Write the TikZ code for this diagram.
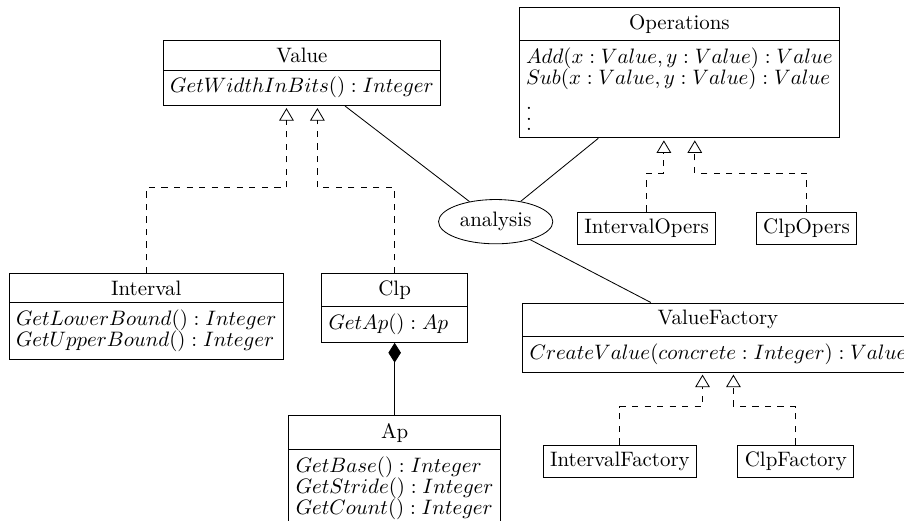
\documentclass[tikz,border=0pt]{standalone}
\usetikzlibrary{shapes.multipart,shapes.geometric,arrows.meta}

\newcommand{\moredots}{\vbox{\baselineskip=5pt\lineskiplimit=-\maxdimen\kern8.5pt\hbox{.}\hbox{.}\hbox{.}}}

\begin{document}
\begin{tikzpicture}[
    umlclass/.style={draw, rectangle split, rectangle split parts=2, align=left,
      rectangle split part align={center,left}, anchor=north,
      font={\baselineskip=10pt\lineskip=0pt\lineskiplimit=0pt}},
    implclass/.style={draw, anchor=north},
    realize/.style={dashed, -{Triangle[open,width=7pt,length=6pt]}, shorten >=1pt},
    owns/.style={{Diamond[length=9.5pt,width=6pt]}-}
  ]
      \useasboundingbox (0,0) rectangle (15.21,8.76);
      \node[umlclass] (value) at (5.08,8.09) {Value \nodepart{second} $GetWidthInBits() : Integer$};
      \node[umlclass] (ops) at (11.43,8.65) {Operations \nodepart{second} $Add(x : Value, y : Value) : Value$\\ $Sub(x : Value, y : Value) : Value$\\ \moredots};
      \node[umlclass] (interval) at (2.46,4.17) {Interval \nodepart{second} $GetLowerBound() : Integer$\\ $GetUpperBound() : Integer$};
      \node[umlclass, minimum width=70pt] (clp) at (6.64,4.17) {Clp \nodepart{second} $GetAp() : Ap$};
      \node[umlclass] (ap) at (6.64,1.77) {Ap \nodepart{second} $GetBase() : Integer$\\ $GetStride() : Integer$\\ $GetCount() : Integer$};
      \node[draw, ellipse, inner xsep=2.2pt, inner ysep=3pt] (analysis) at (8.34,5.03) {analysis};
      \node[implclass] (intopers) at (10.88,5.20) {IntervalOpers};
      \node[implclass] (clpopers) at (13.57,5.20) {ClpOpers};
      \node[umlclass] (factory) at (12.08,3.67) {ValueFactory \nodepart{second} $CreateValue(concrete : Integer) : Value$};
      \node[implclass] (intfactory) at (10.43,1.28) {IntervalFactory};
      \node[implclass] (clpfactory) at (13.39,1.28) {ClpFactory};

      % associations
      \draw (value) -- (analysis);
      \draw (ops) -- (analysis);
      \draw (analysis) -- (factory);
      \draw[owns] (clp) -- (ap);

      % realizations
      \draw[realize] (interval.north) -- ++(0,1.43) -| ([xshift=-0.26cm]value.south);
      \draw[realize] (clp.north) -- ++(0,1.43) -| ([xshift=0.26cm]value.south);
      \draw[realize] (intopers.north) -- ++(0,0.65) -| ([xshift=-0.26cm]ops.south);
      \draw[realize] (clpopers.north) -- ++(0,0.65) -| ([xshift=0.26cm]ops.south);
      \draw[realize] (intfactory.north) -- ++(0,0.64) -| ([xshift=-0.26cm]factory.south);
      \draw[realize] (clpfactory.north) -- ++(0,0.64) -| ([xshift=0.26cm]factory.south);
\end{tikzpicture}
\end{document}
